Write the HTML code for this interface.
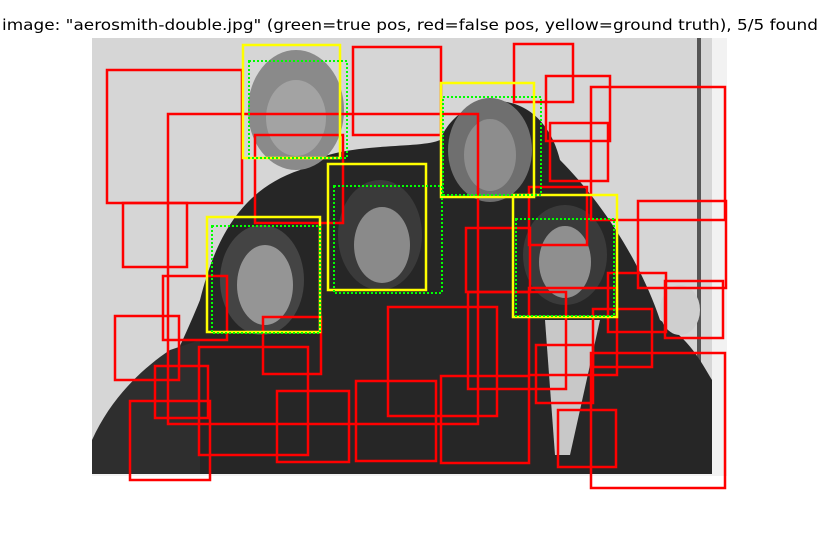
<!DOCTYPE html>
<html><head><meta charset="utf-8"><style>
html,body{margin:0;padding:0;background:#fff;width:820px;height:560px;overflow:hidden}
svg{display:block}
</style></head><body>
<svg id="chart" width="820" height="560" viewBox="0 0 820 560" xmlns="http://www.w3.org/2000/svg">
  <text x="410" y="30" text-anchor="middle" font-family="DejaVu Sans, Liberation Sans, sans-serif" font-size="15" textLength="816" lengthAdjust="spacingAndGlyphs" fill="#000">image: "aerosmith-double.jpg" (green=true pos, red=false pos, yellow=ground truth), 5/5 found</text>
  <g id="photo">
    <rect x="92" y="38" width="635" height="438" fill="#f2f2f2"/>
    <rect x="92" y="38" width="620" height="436" fill="#d6d6d6"/>
    <rect x="697" y="38" width="4" height="436" fill="#555"/>
    <path d="M150,474 L150,440 C160,380 180,350 200,300 C215,240 240,190 300,170 C330,140 420,150 440,140 C460,90 540,80 560,160 C600,200 640,260 660,320 C690,340 700,360 712,380 L712,474 Z" fill="#262626"/>
    <path d="M92,474 L92,440 C110,400 140,370 170,350 L200,340 L200,474 Z" fill="#2e2e2e"/>
    <ellipse cx="296" cy="110" rx="48" ry="60" fill="#8a8a8a"/>
    <ellipse cx="296" cy="118" rx="30" ry="38" fill="#a3a3a3"/>
    <ellipse cx="490" cy="150" rx="42" ry="52" fill="#6f6f6f"/>
    <ellipse cx="490" cy="155" rx="26" ry="36" fill="#8d8d8d"/>
    <ellipse cx="380" cy="235" rx="42" ry="55" fill="#3a3a3a"/>
    <ellipse cx="382" cy="245" rx="28" ry="38" fill="#8a8a8a"/>
    <ellipse cx="262" cy="280" rx="42" ry="55" fill="#444"/>
    <ellipse cx="265" cy="285" rx="28" ry="40" fill="#959595"/>
    <ellipse cx="565" cy="255" rx="42" ry="50" fill="#3a3a3a"/>
    <ellipse cx="565" cy="262" rx="26" ry="36" fill="#8f8f8f"/>
    <path d="M545,320 L600,320 L570,455 L555,455 Z" fill="#c8c8c8"/>
    <ellipse cx="680" cy="310" rx="20" ry="25" fill="#cfcfcf"/>
  </g>
  <g id="boxes"></g>
</svg>
<script>
// detection boxes in image coordinates: [x1, y1, x2, y2]
const falsePos = [
  [107,70,242,203],[168,114,478,424],[353,47,441,135],[255,135,343,223],[123,203,187,267],
  [514,44,573,102],[546,76,610,141],[550,123,608,181],[591,87,725,220],[638,201,726,288],
  [529,187,587,245],[466,228,530,292],[468,292,566,389],[529,288,617,375],[441,376,529,463],
  [608,273,666,332],[665,281,723,338],[593,309,652,367],[536,345,593,403],[591,353,725,488],
  [558,410,616,467],[388,307,497,416],[356,381,436,461],
  [163,276,227,340],[115,316,179,380],[263,317,321,374],[199,347,308,455],[155,366,208,418],
  [130,401,210,480],[277,391,349,462]
];
const groundTruth = [
  [243,45,340,158],[207,217,320,332],[328,164,426,290],[441,83,534,197],[513,195,617,317]
];
const truePos = [
  [249,61,347,158],[212,226,320,333],[334,186,442,293],[443,97,541,195],[516,219,614,316]
];
const ox = 0, oy = 0;
function sx(v){ return ox + v; }
function sy(v){ return oy + v; }
const g = document.getElementById('boxes');
const NS = 'http://www.w3.org/2000/svg';
function draw(list, color, w, dash, name){
  list.forEach(function(b, i){
    const r = document.createElementNS(NS, 'rect');
    r.setAttribute('x', sx(b[0]));
    r.setAttribute('y', sy(b[1]));
    r.setAttribute('width', sx(b[2]) - sx(b[0]));
    r.setAttribute('height', sy(b[3]) - sy(b[1]));
    r.setAttribute('fill', 'none');
    r.setAttribute('stroke', color);
    r.setAttribute('stroke-width', w);
    if (dash) r.setAttribute('stroke-dasharray', dash);
    
    
    g.appendChild(r);
  });
}
draw(falsePos, '#ff0000', 2.5, null, 'false-positive-box');
draw(groundTruth, '#ffff00', 2.5, null, 'ground-truth-box');
draw(truePos, '#00ff00', 2, '2,2', 'true-positive-box');
</script>
</body></html>
